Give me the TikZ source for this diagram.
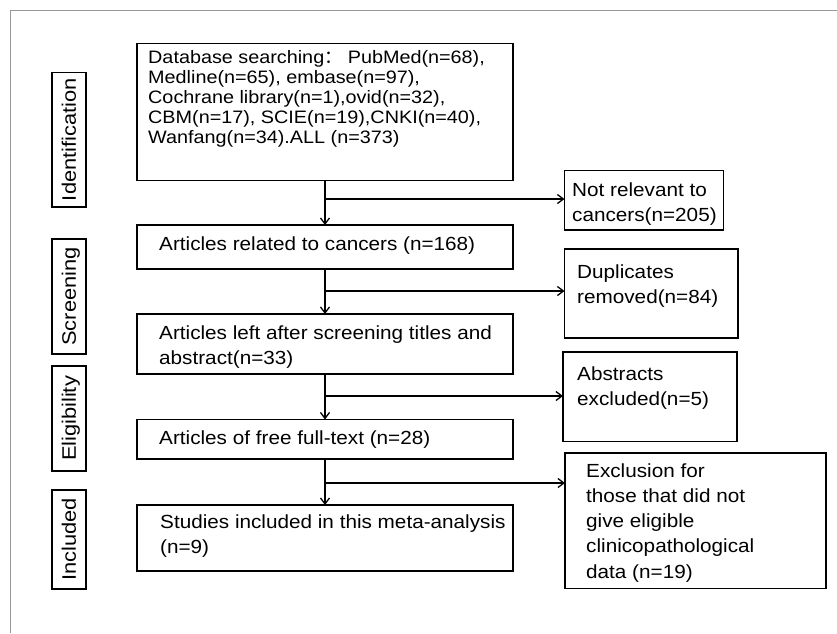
\documentclass[tikz,border=0pt]{standalone}
\usepackage{fontspec}
\setmainfont{Liberation Sans}
\newfontfamily\fA[FakeStretch=1.1]{Liberation Sans}
\newfontfamily\fB[FakeStretch=1.09]{Liberation Sans}
\newfontfamily\fL[FakeStretch=1.12]{Liberation Sans}
\newfontfamily\cjkf{Noto Sans CJK SC}
\usetikzlibrary{arrows.meta}
\newcommand\ml[1]{\begin{tabular}[t]{@{}l@{}}#1\end{tabular}}
\begin{document}
\begin{tikzpicture}[x=1pt,y=-1pt,
 box/.style={draw, line width=1.6pt, inner sep=0pt, outer sep=0pt},
 lbl/.style={draw, line width=1.5pt, rotate=90, inner sep=0pt, outer sep=0pt, minimum height=34pt, font=\fontsize{19.5}{22}\fL, text height=13.9pt, text depth=0pt},
 ta/.style={anchor=base west, inner sep=0pt, font=\fontsize{18}{20}\fA},
 tb/.style={anchor=base west, inner sep=0pt, font=\fontsize{19}{25.3}\fB},
 arr/.style={line width=1.3pt, -{Straight Barb[length=6pt,width=9pt]}},
 frame/.style={draw=black!40, line width=1pt}]
\useasboundingbox (0,0) rectangle (837,633);
\fill[white] (0,0) rectangle (837,633);
\draw[frame] (10.7,633) -- (10.7,10.3) -- (837,10.3);

% main boxes
\node[box, minimum width=376pt, minimum height=137pt] (b1) at (325,112) {};
\node[box, minimum width=376pt, minimum height=44pt] (b2) at (325,247) {};
\node[box, minimum width=376pt, minimum height=60pt] (b3) at (325,344) {};
\node[box, minimum width=376pt, minimum height=39.5pt] (b4) at (325,439.25) {};
\node[box, minimum width=376pt, minimum height=66pt] (b5) at (325,538) {};

% side boxes
\node[box, minimum width=159pt, minimum height=59.5pt] (s1) at (644,200.25) {};
\node[box, minimum width=173.5pt, minimum height=89pt] (s2) at (651.25,293.5) {};
\node[box, minimum width=174pt, minimum height=89.5pt] (s3) at (650,396.75) {};
\node[box, minimum width=261pt, minimum height=135.5pt] (s4) at (695.5,520.75) {};

% stage labels
\node[lbl, minimum width=134.5pt] (l1) at (69,139.75) {Identification};
\node[lbl, minimum width=115pt] (l2) at (69,296.5) {Screening};
\node[lbl, minimum width=105pt] (l3) at (69,418.5) {Eligibility};
\node[lbl, minimum width=99pt] (l4) at (69,539.5) {Included};

% texts
\node[ta] (t1) at (148,63.3) {\ml{Database searching{\cjkf ：} PubMed(n=68),\\Medline(n=65), embase(n=97),\\Cochrane library(n=1),ovid(n=32),\\CBM(n=17), SCIE(n=19),CNKI(n=40),\\Wanfang(n=34).ALL (n=373)}};
\node[tb] (t2) at (159,250) {\ml{Articles related to cancers (n=168)}};
\node[tb] (t3) at (159,339) {\ml{Articles left after screening titles and\\abstract(n=33)}};
\node[tb] (t4) at (159,444) {\ml{Articles of free full-text (n=28)}};
\node[tb] (t5) at (160,528) {\ml{Studies included in this meta-analysis\\(n=9)}};
\node[tb] (u1) at (572,196) {\ml{Not relevant to\\cancers(n=205)}};
\node[tb] (u2) at (577,278) {\ml{Duplicates\\removed(n=84)}};
\node[tb] (u3) at (577,380) {\ml{Abstracts\\excluded(n=5)}};
\node[tb] (u4) at (586,477) {\ml{Exclusion for\\those that did not\\give eligible\\clinicopathological\\data (n=19)}};

% connectors
\coordinate (j1) at (325,199);
\coordinate (j2) at (325,291);
\coordinate (j3) at (325,396);
\coordinate (j4) at (325,483);
\draw[arr] (b1.south) -- (b2.north);
\draw[arr] (b2.south) -- (b3.north);
\draw[arr] (b3.south) -- (b4.north);
\draw[arr] (b4.south) -- (b5.north);
\draw[arr] (j1) -- (j1 -| s1.west);
\draw[arr] (j2) -- (j2 -| s2.west);
\draw[arr] (j3) -- (j3 -| s3.west);
\draw[arr] (j4) -- (j4 -| s4.west);
\end{tikzpicture}
\end{document}
